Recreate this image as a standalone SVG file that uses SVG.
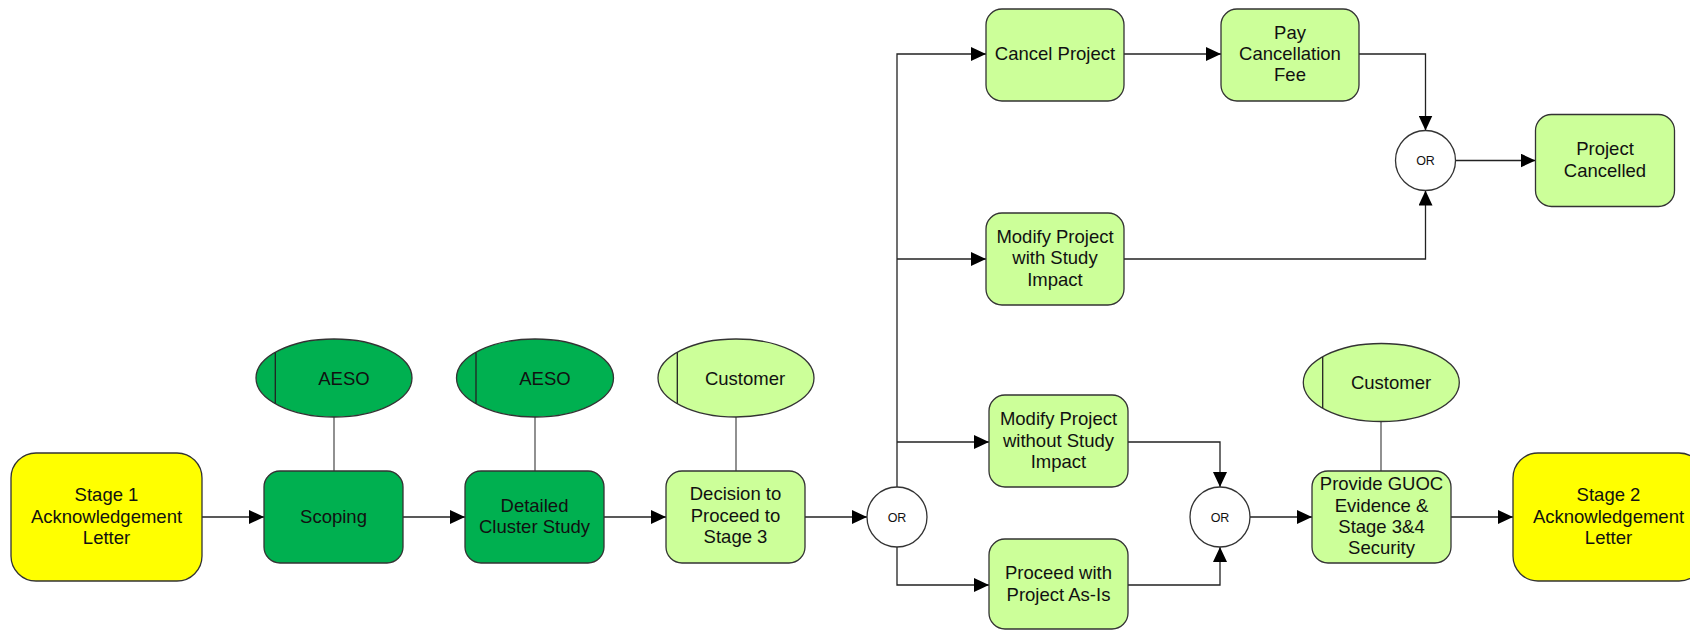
<svg xmlns="http://www.w3.org/2000/svg" width="1690" height="631" viewBox="0 0 1690 631">
  <style>
    .stage { fill: #FFFF00; stroke: #333333; stroke-width: 1.3; }
    .aeso { fill: #00B050; stroke: #333333; stroke-width: 1.3; }
    .cust { fill: #CCFF99; stroke: #333333; stroke-width: 1.3; }
    .gate { fill: #FFFFFF; stroke: #333333; stroke-width: 1.3; }
    .lane { stroke: #222222; stroke-width: 1.3; fill: none; }
    .lbl { font-family: "Liberation Sans", Arial, sans-serif; font-size: 18.5px; fill: #111111; text-anchor: middle; }
    .orl { font-family: "Liberation Sans", Arial, sans-serif; font-size: 12.5px; fill: #111111; text-anchor: middle; }
    .flow { fill: none; stroke: #222222; stroke-width: 1.3; marker-end: url(#arrow); }
    .assoc { fill: none; stroke: #555555; stroke-width: 1.3; }
  </style>
  <defs>
    <marker id="arrow" markerUnits="userSpaceOnUse" markerWidth="16" markerHeight="14" refX="15" refY="7" orient="auto">
      <path d="M0,0 L15,7 L0,14 Z" fill="#000000"/>
    </marker>
  </defs>

  <rect width="1690" height="631" fill="#FFFFFF"/>

  <!-- connectors -->
  <g id="connectors">
    <path class="assoc" d="M334,417 V471"/>
    <path class="assoc" d="M535,417 V471"/>
    <path class="assoc" d="M736,417 V471"/>
    <path class="assoc" d="M1381,422 V471"/>

    <path class="flow" d="M202,517 H264"/>
    <path class="flow" d="M403,517 H465"/>
    <path class="flow" d="M604,517 H666"/>
    <path class="flow" d="M805,517 H867"/>
    <path class="flow" d="M897,487 V54 H986"/>
    <path class="flow" d="M897,259 H986"/>
    <path class="flow" d="M897,442 H989"/>
    <path class="flow" d="M897,547 V585 H989"/>
    <path class="flow" d="M1124,54 H1221"/>
    <path class="flow" d="M1359,54 H1425.5 V130.5"/>
    <path class="flow" d="M1124,259 H1425.5 V190.5"/>
    <path class="flow" d="M1455.5,160.5 H1535.5"/>
    <path class="flow" d="M1128,442 H1220 V487"/>
    <path class="flow" d="M1128,585 H1220 V547"/>
    <path class="flow" d="M1250,517 H1312"/>
    <path class="flow" d="M1451,517 H1513"/>
  </g>

  <!-- start -->
  <g id="stage1">
    <rect class="stage" x="11" y="453" width="191" height="128" rx="25"/>
    <text class="lbl" x="106.5" y="500.5">Stage 1</text>
    <text class="lbl" x="106.5" y="522.5">Acknowledgement</text>
    <text class="lbl" x="106.5" y="543.5">Letter</text>
  </g>

  <g id="aeso1">
    <ellipse class="aeso" cx="334" cy="378" rx="78" ry="39"/>
    <line class="lane" x1="275.3" y1="352.5" x2="275.3" y2="403.5"/>
    <text class="lbl" x="344" y="384.5">AESO</text>
  </g>
  <g id="scoping">
    <rect class="aeso" x="264" y="471" width="139" height="92" rx="16"/>
    <text class="lbl" x="333.5" y="523">Scoping</text>
  </g>

  <g id="aeso2">
    <ellipse class="aeso" cx="535" cy="378" rx="78.5" ry="39"/>
    <line class="lane" x1="476" y1="352.5" x2="476" y2="403.5"/>
    <text class="lbl" x="545" y="384.5">AESO</text>
  </g>
  <g id="detailed-study">
    <rect class="aeso" x="465" y="471" width="139" height="92" rx="16"/>
    <text class="lbl" x="534.5" y="511.5">Detailed</text>
    <text class="lbl" x="534.5" y="532.5">Cluster Study</text>
  </g>

  <g id="customer1">
    <ellipse class="cust" cx="736" cy="378" rx="78" ry="39"/>
    <line class="lane" x1="677.3" y1="352.5" x2="677.3" y2="403.5"/>
    <text class="lbl" x="745" y="384.5">Customer</text>
  </g>
  <g id="decision">
    <rect class="cust" x="666" y="471" width="139" height="92" rx="16"/>
    <text class="lbl" x="735.5" y="500">Decision to</text>
    <text class="lbl" x="735.5" y="521.5">Proceed to</text>
    <text class="lbl" x="735.5" y="543">Stage 3</text>
  </g>

  <g id="or-split">
    <circle class="gate" cx="897" cy="517" r="30"/>
    <text class="orl" x="897" y="521.5">OR</text>
  </g>

  <g id="cancel-project">
    <rect class="cust" x="986" y="9" width="138" height="92" rx="16"/>
    <text class="lbl" x="1055" y="60">Cancel Project</text>
  </g>
  <g id="pay-fee">
    <rect class="cust" x="1221" y="9" width="138" height="92" rx="16"/>
    <text class="lbl" x="1290" y="38.5">Pay</text>
    <text class="lbl" x="1290" y="60">Cancellation</text>
    <text class="lbl" x="1290" y="81">Fee</text>
  </g>
  <g id="modify-with-impact">
    <rect class="cust" x="986" y="213" width="138" height="92" rx="16"/>
    <text class="lbl" x="1055" y="242.5">Modify Project</text>
    <text class="lbl" x="1055" y="264">with Study</text>
    <text class="lbl" x="1055" y="285.5">Impact</text>
  </g>
  <g id="or-cancel">
    <circle class="gate" cx="1425.5" cy="160.5" r="30"/>
    <text class="orl" x="1425.5" y="165">OR</text>
  </g>
  <g id="project-cancelled">
    <rect class="cust" x="1535.5" y="114.5" width="139" height="92" rx="16"/>
    <text class="lbl" x="1605" y="155">Project</text>
    <text class="lbl" x="1605" y="176.5">Cancelled</text>
  </g>

  <g id="modify-without-impact">
    <rect class="cust" x="989" y="395" width="139" height="92" rx="16"/>
    <text class="lbl" x="1058.5" y="425">Modify Project</text>
    <text class="lbl" x="1058.5" y="446.5">without Study</text>
    <text class="lbl" x="1058.5" y="467.5">Impact</text>
  </g>
  <g id="proceed-as-is">
    <rect class="cust" x="989" y="539" width="139" height="90" rx="16"/>
    <text class="lbl" x="1058.5" y="579">Proceed with</text>
    <text class="lbl" x="1058.5" y="600.5">Project As-Is</text>
  </g>
  <g id="or-join">
    <circle class="gate" cx="1220" cy="517" r="30"/>
    <text class="orl" x="1220" y="521.5">OR</text>
  </g>

  <g id="customer2">
    <ellipse class="cust" cx="1381.3" cy="382.5" rx="78" ry="39"/>
    <line class="lane" x1="1322.7" y1="357" x2="1322.7" y2="408"/>
    <text class="lbl" x="1391" y="389">Customer</text>
  </g>
  <g id="provide-guoc">
    <rect class="cust" x="1312" y="471" width="139" height="92" rx="16"/>
    <text class="lbl" x="1381.5" y="490">Provide GUOC</text>
    <text class="lbl" x="1381.5" y="511.5">Evidence &amp;</text>
    <text class="lbl" x="1381.5" y="532.5">Stage 3&amp;4</text>
    <text class="lbl" x="1381.5" y="554">Security</text>
  </g>

  <!-- end -->
  <g id="stage2">
    <rect class="stage" x="1513" y="453" width="191" height="128" rx="25"/>
    <text class="lbl" x="1608.5" y="500.5">Stage 2</text>
    <text class="lbl" x="1608.5" y="522.5">Acknowledgement</text>
    <text class="lbl" x="1608.5" y="543.5">Letter</text>
  </g>
</svg>
